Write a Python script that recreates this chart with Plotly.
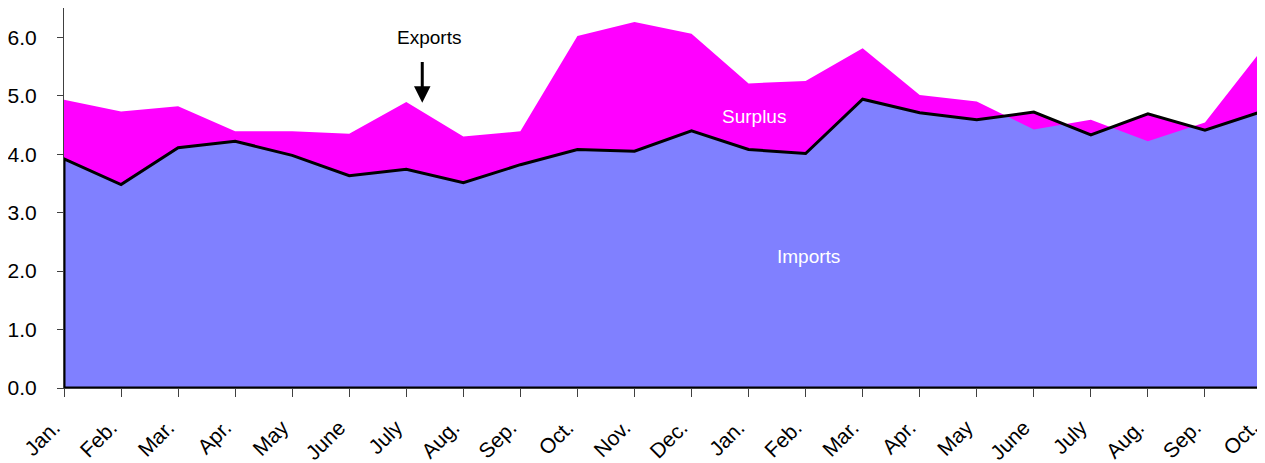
import plotly.graph_objects as go

months = ["Jan.", "Feb.", "Mar.", "Apr.", "May", "June", "July", "Aug.", "Sep.", "Oct.", "Nov.", "Dec.",
          "Jan.", "Feb.", "Mar.", "Apr.", "May", "June", "July", "Aug.", "Sep.", "Oct."]
imports = [3.92, 3.48, 4.11, 4.22, 3.98, 3.63, 3.74, 3.51, 3.82, 4.08, 4.05, 4.40,
           4.08, 4.01, 4.94, 4.71, 4.59, 4.72, 4.33, 4.69, 4.41, 4.73]
exports = [4.93, 4.73, 4.82, 4.39, 4.39, 4.35, 4.89, 4.30, 4.39, 6.02, 6.26, 6.06,
           5.21, 5.25, 5.81, 5.01, 4.90, 4.42, 4.59, 4.22, 4.54, 5.79]
y_ticks = [0, 1, 2, 3, 4, 5, 6]

idx = list(range(len(months)))
FONT = "Liberation Sans, Arial, sans-serif"

fig = go.Figure()
fig.add_trace(go.Scatter(x=idx, y=imports, mode="none", fill="tozeroy",
                         fillcolor="#8080FF", showlegend=False, hoverinfo="skip"))
fig.add_trace(go.Scatter(x=idx, y=exports, mode="none", fill="tonexty",
                         fillcolor="#FF00FF", showlegend=False, hoverinfo="skip"))
# outline of imports area
ox = [idx[0]] + idx + [idx[-1], idx[0]]
oy = [0] + imports + [0, 0]
fig.add_trace(go.Scatter(x=ox, y=oy, mode="lines", line=dict(color="black", width=3),
                         showlegend=False, hoverinfo="skip", cliponaxis=False))

fig.add_annotation(x=6.28, y=4.88, ax=6.28, ay=5.6, xref="x", yref="y", axref="x", ayref="y",
                   showarrow=True, arrowhead=2, arrowsize=1.1, arrowwidth=3, arrowcolor="black",
                   text="")
fig.add_annotation(x=6.4, y=6.0, xref="x", yref="y", text="Exports", showarrow=False,
                   yanchor="middle", font=dict(family=FONT, size=19, color="black"))
fig.add_annotation(x=12.1, y=4.65, xref="x", yref="y", text="Surplus", showarrow=False,
                   font=dict(family=FONT, size=19, color="white"))
fig.add_annotation(x=13.05, y=2.25, xref="x", yref="y", text="Imports", showarrow=False,
                   font=dict(family=FONT, size=19, color="white"))

# page body has an 8px default margin; compensate so the chart lands where it should
fig.update_layout(
    width=1257, height=455,
    margin=dict(l=56, r=3, t=0, b=75, autoexpand=False),
    plot_bgcolor="white", paper_bgcolor="white",
    font=dict(family=FONT, size=21, color="black"),
)
fig.update_xaxes(range=[-0.0001, 21.0001], tickmode="array", tickvals=idx, ticktext=months,
                 tickangle=-45, ticks="outside", ticklen=8, tickcolor="#404040",
                 ticklabeloverflow="allow", ticklabelstandoff=10, ticklabelshift=-10,
                 showline=True, linecolor="#404040", linewidth=1, mirror=True, automargin=False,
                 showgrid=False, zeroline=False, tickfont=dict(size=21))
fig.update_yaxes(range=[0, 6.5], tickmode="array", tickvals=y_ticks,
                 ticktext=[f"{v:.1f}" for v in y_ticks],
                 ticks="outside", ticklen=6, tickcolor="#404040", automargin=False,
                 ticklabelstandoff=16,
                 showline=True, linecolor="#404040", linewidth=1, mirror=True,
                 showgrid=False, zeroline=False, tickfont=dict(size=21))

fig.write_html("out.html")
